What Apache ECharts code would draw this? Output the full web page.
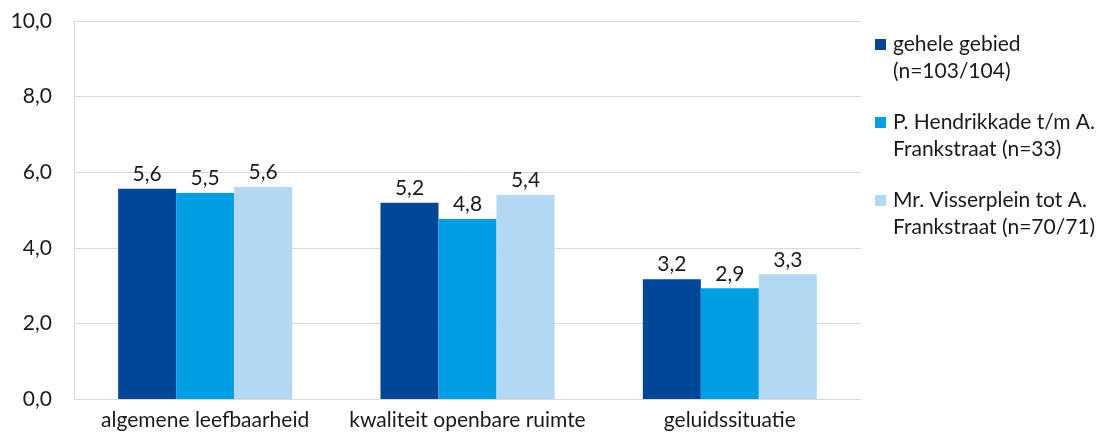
<!DOCTYPE html>
<html>
<head>
<meta charset="utf-8">
<script src="https://cdn.jsdelivr.net/npm/echarts@6/dist/echarts.min.js"></script>
<style>
  html, body { margin: 0; padding: 0; background: #fff; }
  #chart { width: 1107px; height: 435px; }
</style>
</head>
<body>
<div id="chart"></div>
<script>
// categorieen en reeksen
var categories = ['algemene leefbaarheid', 'kwaliteit openbare ruimte', 'geluidssituatie'];
var seriesNames = [
  'gehele gebied\n(n=103/104)',
  'P. Hendrikkade t/m A.\nFrankstraat (n=33)',
  'Mr. Visserplein tot A.\nFrankstraat (n=70/71)'
];
var gehele = [5.56, 5.19, 3.17];
var hendrikkade = [5.45, 4.76, 2.93];
var visserplein = [5.61, 5.40, 3.30];
var yTicks = [0, 2, 4, 6, 8, 10];

var colors = ['#004699', '#009fe3', '#b3d8f3'];
var font = 'Lato, "Open Sans", sans-serif';
var fs = 21;

function komma(v) {
  return v.toFixed(1).replace('.', ',');
}

var chart = echarts.init(document.getElementById('chart'));

function bar(name, data, color) {
  return {
    name: name,
    type: 'bar',
    data: data,
    barWidth: 58,
    barGap: '0%',
    itemStyle: { color: color },
    label: {
      show: true,
      position: 'top',
      distance: 4,
      color: '#1a1a1a',
      fontFamily: font,
      fontSize: fs,
      formatter: function (p) { return komma(p.value); }
    }
  };
}

option = {
  animation: false,
  color: colors,
  grid: { left: 74, right: 246, top: 21, bottom: 36, containLabel: false },
  legend: {
    orient: 'vertical',
    left: 875,
    top: 4,
    padding: 0,
    itemWidth: 11,
    itemHeight: 11,
    itemGap: -3,
    icon: 'rect',
    data: seriesNames,
    // lege eerste regel zodat het blokje naast de eerste tekstregel staat
    formatter: function (n) { return '\n' + n; },
    textStyle: {
      fontFamily: font,
      fontSize: fs,
      color: '#1a1a1a',
      lineHeight: 27,
      padding: [0, 0, 0, 2]
    }
  },
  xAxis: {
    type: 'category',
    data: categories,
    axisTick: { show: false },
    axisLine: { lineStyle: { color: '#d9d9d9', width: 1 } },
    axisLabel: {
      interval: 0,
      hideOverlap: false,
      color: '#1a1a1a',
      fontFamily: font,
      fontSize: fs,
      margin: 11
    }
  },
  yAxis: {
    type: 'value',
    min: yTicks[0],
    max: yTicks[yTicks.length - 1],
    interval: 2,
    axisLine: { show: true, lineStyle: { color: '#d9d9d9' } },
    axisTick: { show: false },
    splitLine: { lineStyle: { color: '#d9d9d9' } },
    axisLabel: {
      color: '#1a1a1a',
      fontFamily: font,
      fontSize: fs,
      margin: 22,
      formatter: function (v) { return komma(v); }
    }
  },
  series: [
    bar(seriesNames[0], gehele, colors[0]),
    bar(seriesNames[1], hendrikkade, colors[1]),
    bar(seriesNames[2], visserplein, colors[2])
  ]
};
chart.setOption(option);
</script>
</body>
</html>
